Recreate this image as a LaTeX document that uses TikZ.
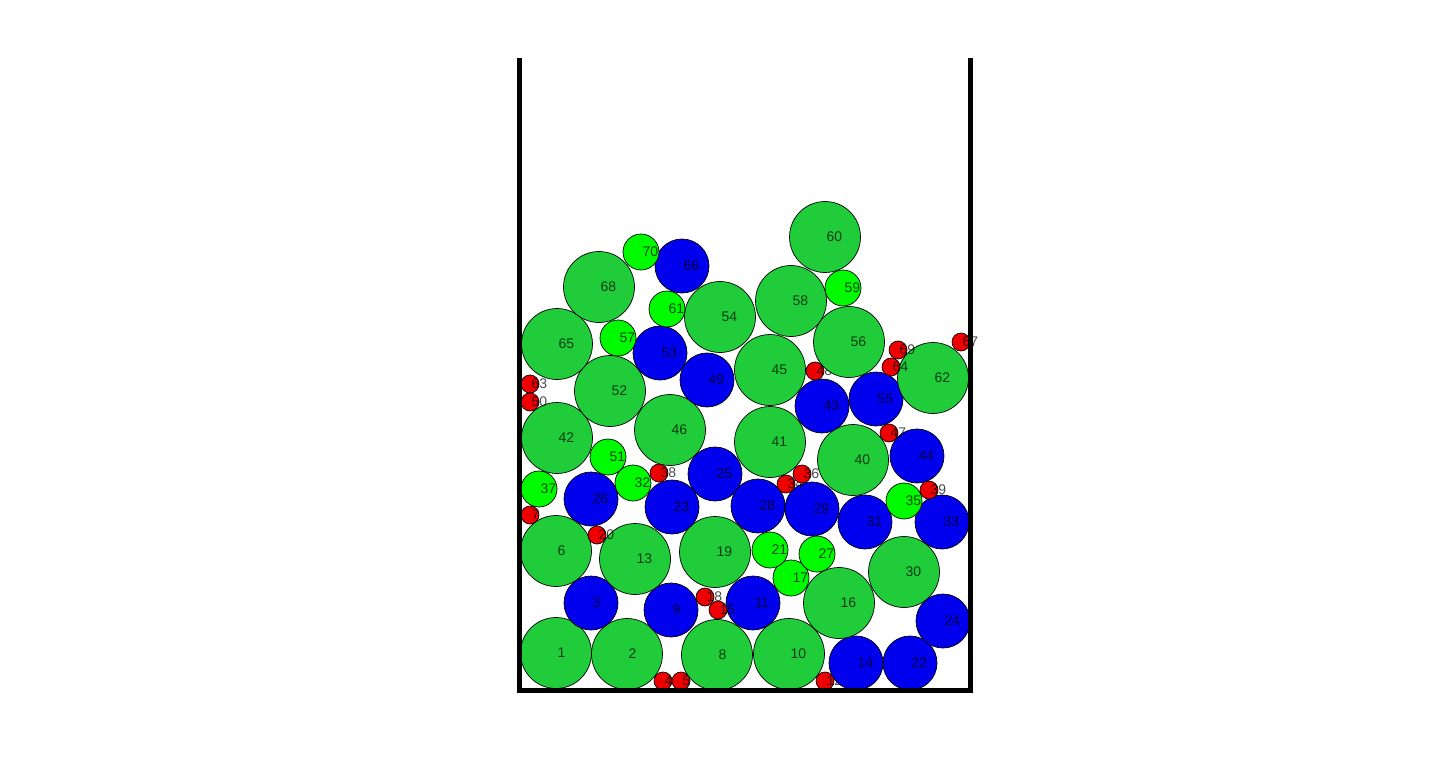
\documentclass[tikz,border=0pt]{standalone}
\usepackage{fontspec}
\setmainfont{Liberation Sans}
\usepackage{tikz}
\definecolor{ballgreen}{RGB}{32,204,58}
\definecolor{balllime}{RGB}{0,250,0}
\definecolor{ballblue}{RGB}{0,0,238}
\definecolor{ballred}{RGB}{238,0,0}

\begin{document}
\begin{tikzpicture}[
			x=1pt,y=-1pt,
			every node/.style={inner sep=0pt,outer sep=0pt},
			ball/.style={circle,draw=black,line width=0.7pt},
			bigball/.style={ball,fill=ballgreen,minimum size=71pt},
			midball/.style={ball,fill=ballblue,minimum size=54pt},
			smallball/.style={ball,fill=balllime,minimum size=36pt},
			tinyball/.style={ball,fill=ballred,minimum size=18pt},
			num/.style={anchor=west,font=\fontsize{14pt}{14pt}\selectfont,text=black,text opacity=0.7,xshift=1.5pt},
			wall/.style={line width=5pt,draw=black}
			]
			\useasboundingbox (0,0) rectangle (1440,776);
			% balls in the order they were dropped
			\foreach \kind/\n/\px/\py in {
				bigball/1/556/653, bigball/2/627/654, midball/3/591/603, tinyball/4/663/681,
				tinyball/5/681/681, bigball/6/556/551, tinyball/7/530/515, bigball/8/717/655,
				midball/9/671/610, bigball/10/789/654, midball/11/753/603, tinyball/12/825/681,
				bigball/13/635/559, midball/14/856/663, tinyball/15/718/610, bigball/16/839/603,
				smallball/17/791/578, tinyball/18/705/597, bigball/19/715/552, tinyball/20/597/535,
				smallball/21/770/550, midball/22/910/663, midball/23/672/507, midball/24/943/621,
				midball/25/715/474, midball/26/591/499, smallball/27/817/554, midball/28/758/506,
				midball/29/812/509, bigball/30/904/572, midball/31/865/522, smallball/32/633/483,
				midball/33/942/522, tinyball/34/786/484, smallball/35/904/501, tinyball/36/802/474,
				smallball/37/539/489, tinyball/38/659/473, tinyball/39/929/490, bigball/40/853/460,
				bigball/41/770/442, bigball/42/557/438, midball/43/822/406, midball/44/917/456,
				bigball/45/770/370, bigball/46/670/430, tinyball/47/889/433, tinyball/48/815/371,
				midball/49/707/380, tinyball/50/530/402, smallball/51/608/457, bigball/52/610/391,
				midball/53/660/353, bigball/54/720/317, midball/55/876/399, bigball/56/849/342,
				smallball/57/618/338, bigball/58/791/301, smallball/59/843/288, bigball/60/825/237,
				smallball/61/667/309, bigball/62/933/378, tinyball/63/530/384, tinyball/64/891/367,
				bigball/65/557/344, midball/66/682/266, tinyball/67/961/342, bigball/68/599/287,
				tinyball/69/898/350, smallball/70/641/252}
			{
				\node[\kind] (b\n) at (\px,\py) {};
				\node[num] (t\n) at (b\n.center) {\n};
			}
			% container
			\draw[wall] (519,58) -- (519,690.5);
			\draw[wall] (970,58) -- (970,690.5);
			\draw[wall] (516.5,690.5) -- (972.5,690.5);
		\end{tikzpicture}
\end{document}
